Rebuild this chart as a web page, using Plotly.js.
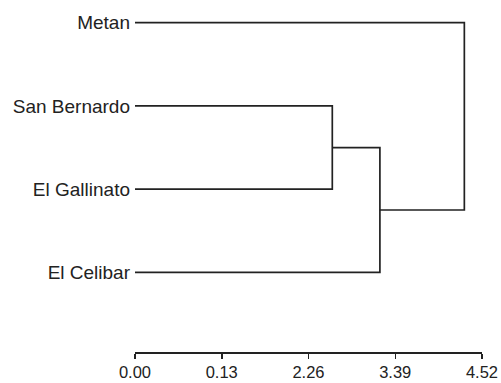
<!DOCTYPE html>
<html>
<head>
<meta charset="utf-8">
<script src="https://cdn.plot.ly/plotly-3.0.1.min.js"></script>
<style>html,body{margin:0;padding:0;background:#fff;}#chart{width:501px;height:383px;}</style>
</head>
<body>
<div id="chart"></div>
<script>
// Leaves from top to bottom
const leaves = ["Metan", "San Bernardo", "El Gallinato", "El Celibar"];
const leafPos = [3, 2, 1, 0];
// Merges: [a, b, height]; indices < 4 are leaves, >= 4 are previous clusters
const mergeA = [1, 4, 0];
const mergeB = [2, 3, 5];
const mergeHeight = [2.57, 3.19, 4.29];
// Axis ticks
const tickVals = [0, 1.13, 2.26, 3.39, 4.52];
const tickText = ["0.00", "0.13", "2.26", "3.39", "4.52"];

const nodeY = leafPos.slice();
const nodeX = leaves.map(() => 0);
const xs = [], ys = [];
for (let i = 0; i < mergeHeight.length; i++) {
  const a = mergeA[i], b = mergeB[i], h = mergeHeight[i];
  xs.push(nodeX[a], h, h, nodeX[b], null);
  ys.push(nodeY[a], nodeY[a], nodeY[b], nodeY[b], null);
  nodeX.push(h);
  nodeY.push((nodeY[a] + nodeY[b]) / 2);
}

const font = "Liberation Sans, Arial, sans-serif";
const trace = {
  x: xs, y: ys, type: "scatter", mode: "lines",
  line: {color: "#222", width: 1.7},
  hoverinfo: "skip", cliponaxis: false
};
const layout = {
  width: 501, height: 383,
  margin: {l: 135, r: 19, t: 6, b: 31, pad: 0},
  paper_bgcolor: "#fff", plot_bgcolor: "#fff",
  showlegend: false,
  font: {family: font, size: 17, color: "#222"},
  xaxis: {
    range: [0, 4.52], tickvals: tickVals, ticktext: tickText,
    showgrid: false, zeroline: false, showline: true, linecolor: "#222", linewidth: 1.5,
    ticks: "outside", ticklen: 5, tickwidth: 1.5, tickcolor: "#222",
    tickfont: {family: font, size: 16.5, color: "#222"}, ticklabelstandoff: 0
  },
  yaxis: {
    range: [-0.955, 3.2], tickvals: leafPos, ticktext: leaves,
    showgrid: false, zeroline: false, showline: false, ticks: "",
    tickfont: {family: font, size: 19, color: "#222"}, ticklabelstandoff: 4
  }
};
Plotly.newPlot("chart", [trace], layout, {displayModeBar: false, staticPlot: true});
</script>
</body>
</html>
